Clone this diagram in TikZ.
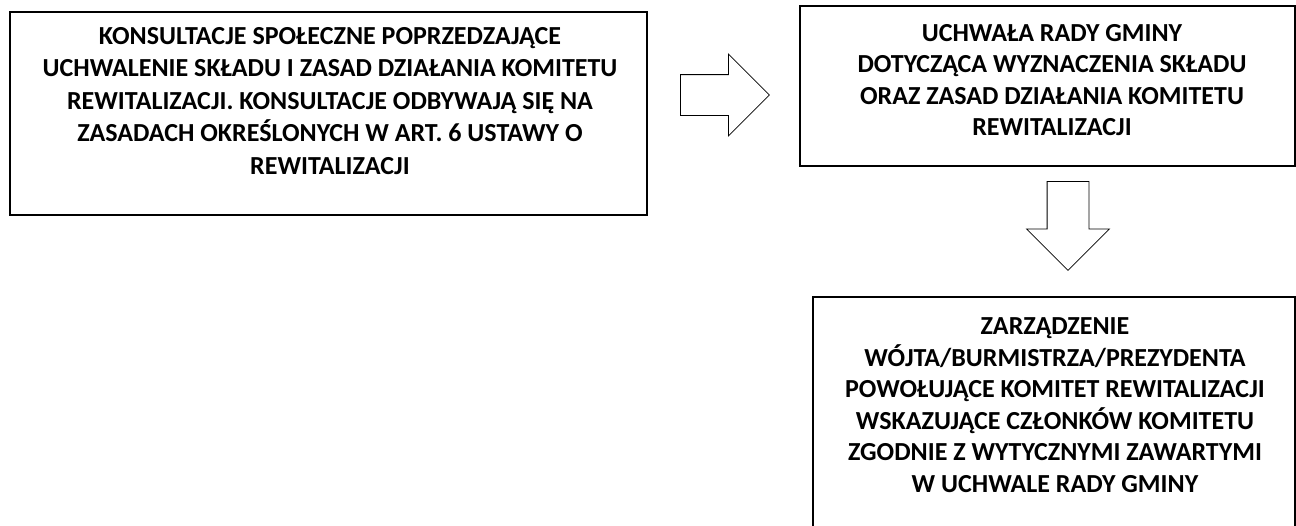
\documentclass[tikz,border=0pt]{standalone}
\usepackage{fontspec}
\setmainfont{Carlito}
\usetikzlibrary{shapes.arrows, positioning}

\tikzset{
  box/.style={draw, line width=1.3pt, inner sep=0pt},
  boxtext/.style={align=center, font=\bfseries\fontsize{26}{31.5}\selectfont, inner sep=0pt},
  blockarrow/.style={single arrow, draw, line width=0.8pt, anchor=tail,
    single arrow head extend=20.5pt, single arrow head indent=0pt, minimum height=89pt}
}

\begin{document}
\begin{tikzpicture}[x=1pt, y=-1pt]
  \useasboundingbox (0,0) rectangle (1296,525);
  \begin{scope}
  \clip (0,0) rectangle (1296,525);
  % boxes
  \node[box, minimum width=637pt, minimum height=203pt] (konsult) at (328.5,113.5) {};
  \node[box, minimum width=495pt, minimum height=160pt] (uchwala) at (1047.5,86) {};
  \node[box, minimum width=482pt, minimum height=260pt] (zarzadz) at (1054,427) {};
  \end{scope}
  % texts
  \node[boxtext, font=\bfseries\fontsize{26}{32.5}\selectfont] (konsultT) at (330,101) {KONSULTACJE SPOŁECZNE POPRZEDZAJĄCE\\
    UCHWALENIE SKŁADU I ZASAD DZIAŁANIA KOMITETU\\
    REWITALIZACJI. KONSULTACJE ODBYWAJĄ SIĘ NA\\
    ZASADACH OKREŚLONYCH W ART. 6 USTAWY O\\
    REWITALIZACJI};
  \node[boxtext] (uchwalaT) at (1052,80) {UCHWAŁA RADY GMINY\\
    DOTYCZĄCA WYZNACZENIA SKŁADU\\
    ORAZ ZASAD DZIAŁANIA KOMITETU\\
    REWITALIZACJI};
  \node[boxtext] (zarzadzT) at (1055,405) {ZARZĄDZENIE\\
    WÓJTA/BURMISTRZA/PREZYDENTA\\
    POWOŁUJĄCE KOMITET REWITALIZACJI\\
    WSKAZUJĄCE CZŁONKÓW KOMITETU\\
    ZGODNIE Z WYTYCZNYMI ZAWARTYMI\\
    W UCHWALE RADY GMINY};
  % arrows
  \node[blockarrow, inner xsep=0pt, inner ysep=20pt] (arrA) at (680,95) {};
  \node[blockarrow, shape border rotate=270, inner xsep=20.5pt, inner ysep=0pt] (arrB) at (1068,181) {};
\end{tikzpicture}
\end{document}
